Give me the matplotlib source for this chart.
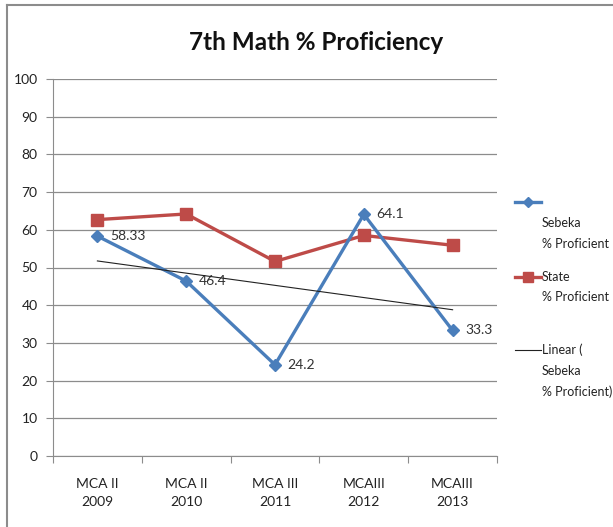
# Grafico de linhas: proficiencia em matematica do 7o ano

import numpy as np
import matplotlib
matplotlib.use("Agg")
from matplotlib import pyplot as plt
from matplotlib.lines import Line2D

# dados
categorias = ["MCA II\n2009", "MCA II\n2010", "MCA III\n2011", "MCAIII\n2012", "MCAIII\n2013"]
sebeka = [58.33, 46.4, 24.2, 64.1, 33.3]
rotulos_sebeka = ["58.33", "46.4", "24.2", "64.1", "33.3"]
estado = [62.7, 64.2, 51.6, 58.5, 55.9]
y_ticks = list(range(0, 101, 10))

azul = "#4A7EBB"
vermelho = "#BE4B48"
cinza = "#8C8C8C"

plt.rcParams["font.family"] = ["Lato", "DejaVu Sans"]

fig = plt.figure(figsize=(6.13, 5.27), dpi=100)
ax = fig.add_axes([53 / 613, 1 - 456 / 527, (497 - 53) / 613, (456 - 79) / 527])

x = np.arange(len(categorias))

# linha de tendencia (regressao linear de Sebeka)
coef = np.polyfit(x, sebeka, 1)
tendencia = np.polyval(coef, x)

ax.plot(x, estado, color=vermelho, lw=2.4, marker="s", ms=8.5, zorder=3)
ax.plot(x, sebeka, color=azul, lw=2.4, marker="D", ms=6.5, zorder=4)
ax.plot(x, tendencia, color="#222222", lw=0.8, zorder=5)

for xi, yi, r in zip(x, sebeka, rotulos_sebeka):
    ax.annotate(r, (xi, yi), xytext=(9, 0), textcoords="offset points",
                va="center", ha="left", fontsize=10, color="#333333")

ax.set_xlim(-0.5, len(categorias) - 0.5)
ax.set_ylim(0, 100)
ax.set_yticks(y_ticks)
ax.set_yticklabels([str(v) for v in y_ticks], fontsize=10, color="#222222")
ax.yaxis.grid(True, color=cinza, lw=0.9)
ax.set_axisbelow(True)

# ticks do eixo x entre categorias, rotulos centralizados
ax.set_xticks(np.arange(-0.5, len(categorias), 1.0))
ax.set_xticklabels([])
ax.set_xticks(x, minor=True)
ax.set_xticklabels(categorias, minor=True, fontsize=10, color="#222222", linespacing=1.6)
ax.tick_params(axis="x", which="minor", length=0, pad=16)
ax.tick_params(axis="x", which="major", length=5, color=cinza)
ax.tick_params(axis="y", length=5, color=cinza, pad=6)

for lado in ["top", "right"]:
    ax.spines[lado].set_visible(False)
ax.spines["left"].set_color(cinza)
ax.spines["bottom"].set_color(cinza)

fig.text(316 / 613, 1 - 42 / 527, "7th Math % Proficiency", ha="center", va="center",
         fontsize=17.5, fontweight="bold", color="#111111")

# legenda manual no estilo do Excel
def item_legenda(y_px, cor, marcador, ms, lw):
    y = 1 - y_px / 527
    fig.add_artist(Line2D([515 / 613, 541 / 613], [y, y], color=cor, lw=lw,
                          transform=fig.transFigure))
    if marcador:
        fig.add_artist(Line2D([528 / 613], [y], color=cor, marker=marcador, ms=ms,
                              transform=fig.transFigure))

item_legenda(202, azul, "D", 5, 2.4)
item_legenda(277, vermelho, "s", 7, 2.4)
item_legenda(350, "#222222", None, 0, 0.8)

tx = 542 / 613
for texto, y_px in [("Sebeka", 223), ("% Proficient", 244), ("State", 277),
                    ("% Proficient", 297), ("Linear (", 350), ("Sebeka", 371),
                    ("% Proficient)", 392)]:
    fig.text(tx, 1 - y_px / 527, texto, ha="left", va="center", fontsize=9, color="#222222")

# borda do grafico
fig.add_artist(Line2D([7 / 613, 7 / 613], [0, 1 - 5 / 527], color=cinza, lw=1.5,
                      transform=fig.transFigure))
fig.add_artist(Line2D([7 / 613, 1], [1 - 5 / 527, 1 - 5 / 527], color=cinza, lw=1.5,
                      transform=fig.transFigure))

fig.savefig("out.png", dpi=100, facecolor="white")
